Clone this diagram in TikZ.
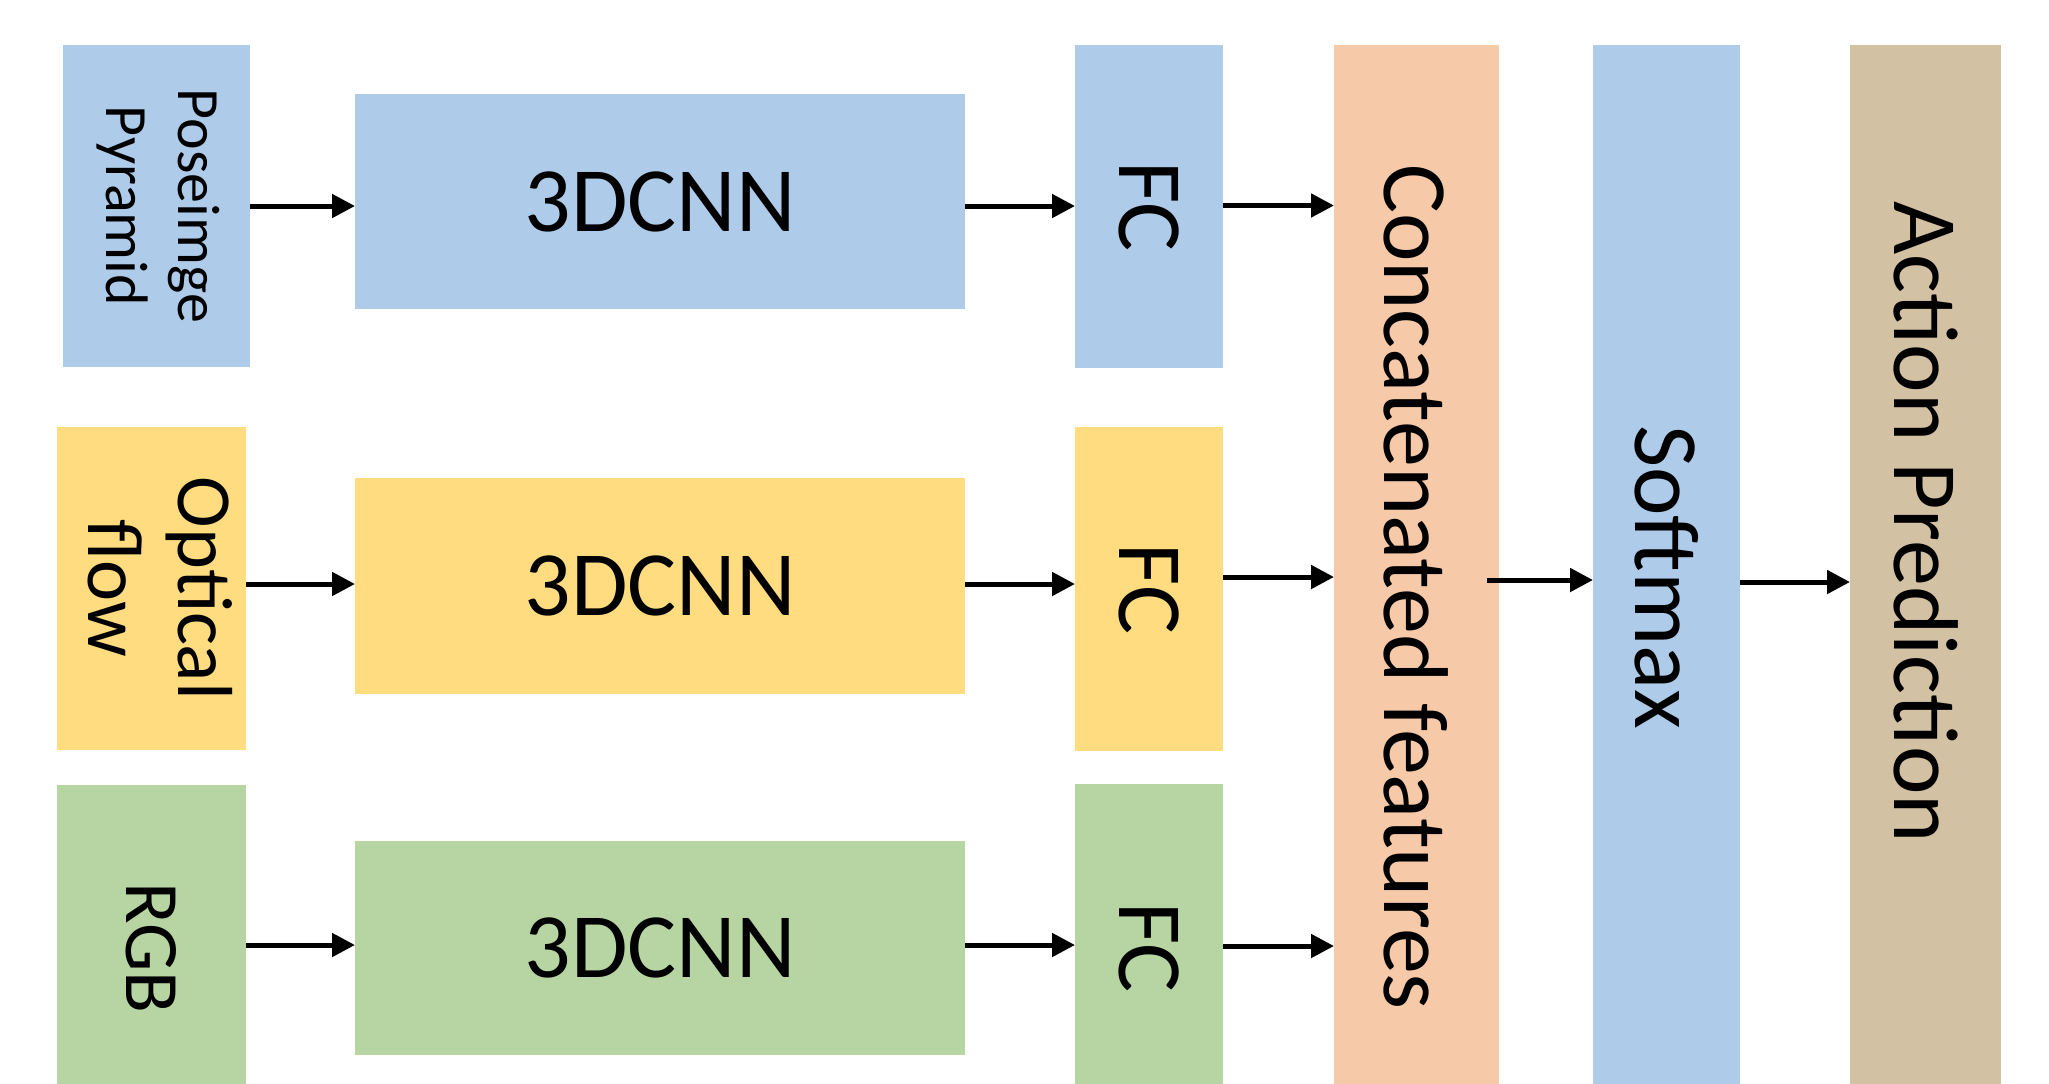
\documentclass[tikz,border=0pt]{standalone}
\usepackage{fontspec}
\setmainfont{Carlito}
\usetikzlibrary{arrows.meta}

\definecolor{boxblue}{HTML}{AECBEA}
\definecolor{boxyellow}{HTML}{FEDC7F}
\definecolor{boxgreen}{HTML}{B7D5A3}
\definecolor{boxorange}{HTML}{F6C9A9}
\definecolor{boxtan}{HTML}{D3C1A3}

\newcommand{\rotlabel}[1]{\rotatebox{-90}{#1}}

\tikzset{
  block/.style={draw=none, inner sep=0pt, outer sep=0pt, anchor=center, text=black},
  bigfont/.style={font=\fontsize{46}{52}\selectfont},
  flow/.style={-{Triangle[length=11.5pt,width=11.5pt]}, line width=2.5pt, draw=black},
}

\begin{document}
\begin{tikzpicture}[x=0.5pt, y=-0.5pt]
  \useasboundingbox (0,0) rectangle (2049,1083);
  \fill[white] (0,0) rectangle (2049,1083);
  \clip (0,0) rectangle (2049,1083);

  % input streams
  \node[block, fill=boxblue, minimum width=93.5pt, minimum height=161pt] (pose) at (156.5,206)
    {\rotlabel{\fontsize{30}{36}\selectfont\begin{tabular}{@{}c@{}}Poseimge\\Pyramid\end{tabular}}};
  \node[block, fill=boxyellow, minimum width=94.5pt, minimum height=161.5pt] (opt) at (151.5,588.5)
    {\rotlabel{\fontsize{39}{45}\selectfont\begin{tabular}{@{}c@{}}Optical\\flow\end{tabular}}};
  \node[block, fill=boxgreen, minimum width=94.5pt, minimum height=163pt] (rgb) at (151.5,948)
    {\rotlabel{\fontsize{38.5}{45}\selectfont RGB}};

  % 3D convolutional branches
  \node[block, bigfont, fill=boxblue, minimum width=305pt, minimum height=107.5pt] (cnn1) at (660,201.5) {3DCNN};
  \node[block, bigfont, fill=boxyellow, minimum width=305pt, minimum height=108pt] (cnn2) at (660,586) {3DCNN};
  \node[block, bigfont, fill=boxgreen, minimum width=305pt, minimum height=107pt] (cnn3) at (660,948) {3DCNN};

  % fully connected layers
  \node[block, bigfont, fill=boxblue, minimum width=74pt, minimum height=161.5pt] (fc1) at (1149,206.5) {\rotlabel{FC}};
  \node[block, bigfont, fill=boxyellow, minimum width=74pt, minimum height=162pt] (fc2) at (1149,589) {\rotlabel{FC}};
  \node[block, bigfont, fill=boxgreen, minimum width=74pt, minimum height=163.5pt] (fc3) at (1149,947.5) {\rotlabel{FC}};

  % fusion and output columns
  \node[block, fill=boxorange, minimum width=82.5pt, minimum height=543pt] (concat) at (1416.5,588) {};
  \node[block, fill=boxblue, minimum width=73.5pt, minimum height=543pt] (soft) at (1666.5,588) {};
  \node[block, fill=boxtan, minimum width=75.5pt, minimum height=543pt] (act) at (1925.5,588) {};

  \node[block, bigfont, rotate=-90] (concattext) at (1416.5,587) {Concatenated features};
  \node[block, bigfont, rotate=-90] (softtext) at (1666.5,577) {Softmax};
  \node[block, bigfont, rotate=-90] (acttext) at (1926,522) {Action Prediction};

  % connectors
  \draw[flow] (pose.east) -- (pose.east -| cnn1.west);
  \draw[flow] ([yshift=-2.25pt]cnn1.east) -- ([yshift=-2.25pt]cnn1.east -| fc1.west);
  \draw[flow] ([yshift=0.5pt]fc1.east) -- ([yshift=0.5pt]fc1.east -| concat.west);

  \draw[flow] ([yshift=2.25pt]opt.east) -- ([yshift=2.25pt]opt.east -| cnn2.west);
  \draw[flow] ([yshift=1pt]cnn2.east) -- ([yshift=1pt]cnn2.east -| fc2.west);
  \draw[flow] ([yshift=6pt]fc2.east) -- ([yshift=6pt]fc2.east -| concat.west);

  \draw[flow] ([yshift=1.5pt]rgb.east) -- ([yshift=1.5pt]rgb.east -| cnn3.west);
  \draw[flow] ([yshift=1.5pt]cnn3.east) -- ([yshift=1.5pt]cnn3.east -| fc3.west);
  \draw[flow] ([yshift=0.75pt]fc3.east) -- ([yshift=0.75pt]fc3.east -| concat.west);

  \draw[flow] ([xshift=-6pt,yshift=4pt]concat.east) -- ([yshift=4pt]concat.east -| soft.west);
  \draw[flow] ([yshift=3pt]soft.east) -- ([yshift=3pt]soft.east -| act.west);
\end{tikzpicture}
\end{document}
